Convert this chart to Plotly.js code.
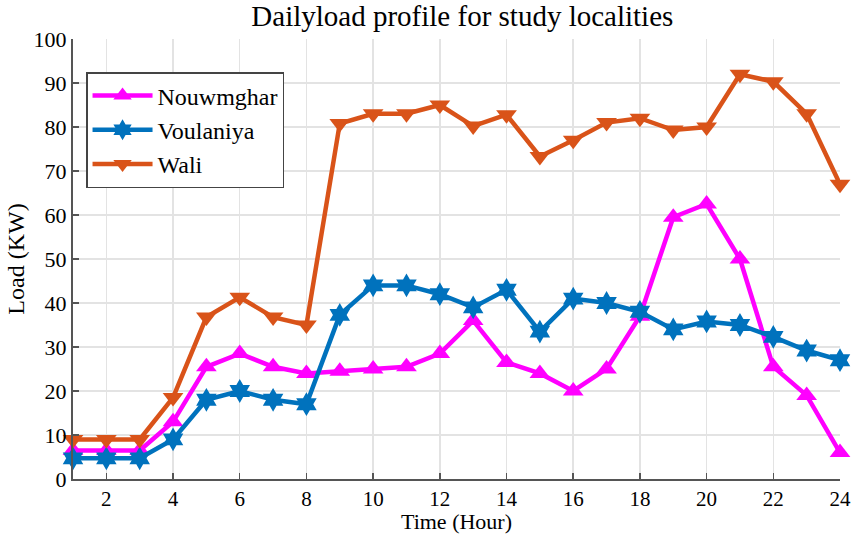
<!DOCTYPE html>
<html>
<head>
<meta charset="utf-8">
<script src="https://cdn.plot.ly/plotly-3.0.1.min.js"></script>
<style>html,body{margin:0;padding:0;background:#fff;}#chart{width:853px;height:534px;}</style>
</head>
<body>
<div id="chart"></div>
<script>
const hours = [1,2,3,4,5,6,7,8,9,10,11,12,13,14,15,16,17,18,19,20,21,22,23,24];
const nouwmghar = [6.5,6.5,6.5,13,25.5,28.5,25.5,24,24.5,25,25.5,28.5,36,26.5,24,20,25,37,59.5,62.5,50,25.5,19,6];
const voulaniya = [4.7,4.7,4.7,9,18,20,18,17,37.3,44,44,42,39,43,33.5,41,40,38,34,35.8,35,32.3,29.2,27];
const wali = [9,9,9,18.5,36.8,41.3,36.8,35,80.8,83,83,85,80.2,82.8,73.3,77,81,82,79.3,80,92,90.3,83,67];
const yTicks = [0,10,20,30,40,50,60,70,80,90,100];
const xTicks = [2,4,6,8,10,12,14,16,18,20,22,24];

const serif = "Liberation Serif, Times New Roman, serif";
function tr(name, y, color, sym) {
  return {x: hours, y: y, name: name, type: 'scatter', mode: 'lines+markers',
    cliponaxis: false,
    line: {color: color, width: 4.5},
    marker: {symbol: sym, size: 18, color: color}};
}
const data = [
  tr('Nouwmghar', nouwmghar, '#FF00FF', 'triangle-up'),
  tr('Voulaniya', voulaniya, '#0072BD', 'hexagram'),
  tr('Wali', wali, '#D95319', 'triangle-down')
];
const layout = {
  width: 853, height: 534,
  margin: {l: 73, r: 13, t: 39, b: 55},
  paper_bgcolor: '#fff', plot_bgcolor: '#fff',
  font: {family: serif, color: '#000', size: 22},
  title: {text: 'Dailyload profile for study localities', font: {family: serif, size: 29, color: '#000'}, x: 0.542, xanchor: 'center', y: 0.99, yanchor: 'top'},
  xaxis: {range: [1, 24], tickvals: xTicks, ticktext: xTicks.map(String),
    showgrid: true, gridcolor: '#e3e3e3', gridwidth: 1.5,
    showline: true, linecolor: '#555', linewidth: 2, zeroline: false,
    ticks: 'inside', ticklen: 6, tickcolor: '#555', tickwidth: 1.5,
    tickfont: {family: serif, size: 21, color: '#000'},
    title: {text: 'Time (Hour)', font: {family: serif, size: 22, color: '#000'}, standoff: 6}},
  yaxis: {range: [0, 100], tickvals: yTicks, ticktext: yTicks.map(String),
    showgrid: true, gridcolor: '#e3e3e3', gridwidth: 1.5,
    showline: true, linecolor: '#555', linewidth: 2, zeroline: false,
    ticks: 'inside', ticklen: 6, tickcolor: '#555', tickwidth: 1.5,
    tickfont: {family: serif, size: 22, color: '#000'},
    title: {text: 'Load (KW)', font: {family: serif, size: 24, color: '#000'}, standoff: 2}},
  legend: {x: 0.017, y: 0.925, xanchor: 'left', yanchor: 'top',
    bgcolor: '#fff', bordercolor: '#444', borderwidth: 1.5,
    font: {family: serif, size: 24, color: '#000'}, itemwidth: 60, tracegroupgap: 0},
  showlegend: true
};
Plotly.newPlot('chart', data, layout, {displayModeBar: false, staticPlot: true});
</script>
</body>
</html>
